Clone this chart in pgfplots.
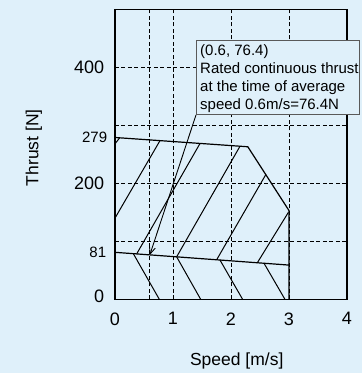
\documentclass[border=0pt]{standalone}
\usepackage{fontspec}
\setmainfont{Liberation Sans}
\usepackage{pgfplots}
\pgfplotsset{compat=1.18}
\usetikzlibrary{arrows.meta}
\definecolor{bg}{RGB}{223,240,250}
\begin{document}
\begin{tikzpicture}
\path[use as bounding box, fill=bg] (-115pt,-73.7pt) rectangle (247pt,299.3pt);
\begin{axis}[
 at={(0,0)}, anchor=south west,
 width=232pt, height=290pt, scale only axis,
 xmin=0, xmax=4, ymin=0, ymax=500,
 axis line style={line width=1.2pt},
 xtick={0,1,2,3,4},
 ytick={0,81,200,279,400},
 yticklabels={\raisebox{6pt}{0}, {\fontsize{15}{15}\selectfont 81\kern-2pt}, 200, {\fontsize{15}{15}\selectfont 279\kern-3pt}, 400},
 major tick length=0pt,
 tick label style={font=\fontsize{18}{18}\selectfont},
 /pgf/number format/assume math mode=true,
 xticklabel style={yshift=-9.7pt},
 yticklabel style={xshift=-7.3pt},
 xlabel={Speed [m/s]}, ylabel={Thrust [N]},
 label style={font=\fontsize{17.5}{18}\selectfont},
 xlabel style={at={(axis description cs:0.5246,-0.229)}, anchor=base},
 ylabel style={at={(axis description cs:-0.35,0.523)}, anchor=center},
 clip=false,
]
% dashed grid
\draw[line width=0.8pt, dash pattern=on 4pt off 2.5pt] (axis cs:0.6,0) -- (axis cs:0.6,500);
\draw[line width=0.8pt, dash pattern=on 4pt off 2.5pt] (axis cs:1,0) -- (axis cs:1,500);
\draw[line width=0.8pt, dash pattern=on 4pt off 2.5pt] (axis cs:2,0) -- (axis cs:2,500);
\draw[line width=0.8pt, dash pattern=on 4pt off 2.5pt] (axis cs:3,0) -- (axis cs:3,500);
\draw[line width=0.8pt, dash pattern=on 4pt off 2.5pt] (axis cs:0,100) -- (axis cs:4,100);
\draw[line width=0.8pt, dash pattern=on 4pt off 2.5pt] (axis cs:0,200) -- (axis cs:4,200);
\draw[line width=0.8pt, dash pattern=on 4pt off 2.5pt] (axis cs:0,300) -- (axis cs:4,300);
\draw[line width=0.8pt, dash pattern=on 4pt off 2.5pt] (axis cs:0,400) -- (axis cs:4,400);
% envelope
\addplot[line width=1.2pt, mark=none] coordinates {(0,279) (2.29,263) (3,153) (3,0)};
\addplot[line width=1.2pt, mark=none] coordinates {(0,81) (3,59)};
% upper hatches
\addplot[line width=1pt, mark=none] coordinates {(0,268) (0.08,278.4)};
\addplot[line width=1pt, mark=none] coordinates {(0,140) (0.776,273.6)};
\addplot[line width=1pt, mark=none] coordinates {(0.374,78.3) (1.466,268.7)};
\addplot[line width=1pt, mark=none] coordinates {(1.063,73.2) (2.155,263.9)};
\addplot[line width=1pt, mark=none] coordinates {(1.753,68.2) (2.6,215)};
\addplot[line width=1pt, mark=none] coordinates {(2.454,63.0) (2.99,150)};
% lower hatches
\addplot[line width=1pt, mark=none] coordinates {(0.316,78.7) (0.764,0)};
\addplot[line width=1pt, mark=none] coordinates {(1.063,73.2) (1.477,0)};
\addplot[line width=1pt, mark=none] coordinates {(1.81,67.7) (2.2,0)};
\addplot[line width=1pt, mark=none] coordinates {(2.569,62.2) (2.93,0)};
% leader
\addplot[line width=0.9pt, mark=none, -{Straight Barb[length=7pt,width=6pt]}] coordinates {(1.397,318) (0.6,76.4)};
\coordinate (bl) at (axis cs:1.397,319);
\coordinate (tr) at (axis cs:4.212,447);
\coordinate (tx) at (axis cs:1.466,439);
\end{axis}
\draw[black!65, line width=0.9pt, fill=bg] (bl) rectangle (tr);
\node[anchor=north west, inner sep=0pt, align=left, font=\fontsize{15}{18}\selectfont] at (tx) {(0.6, 76.4)\\Rated continuous thrust\\at the time of average\\speed 0.6m/s=76.4N};
\end{tikzpicture}
\end{document}
